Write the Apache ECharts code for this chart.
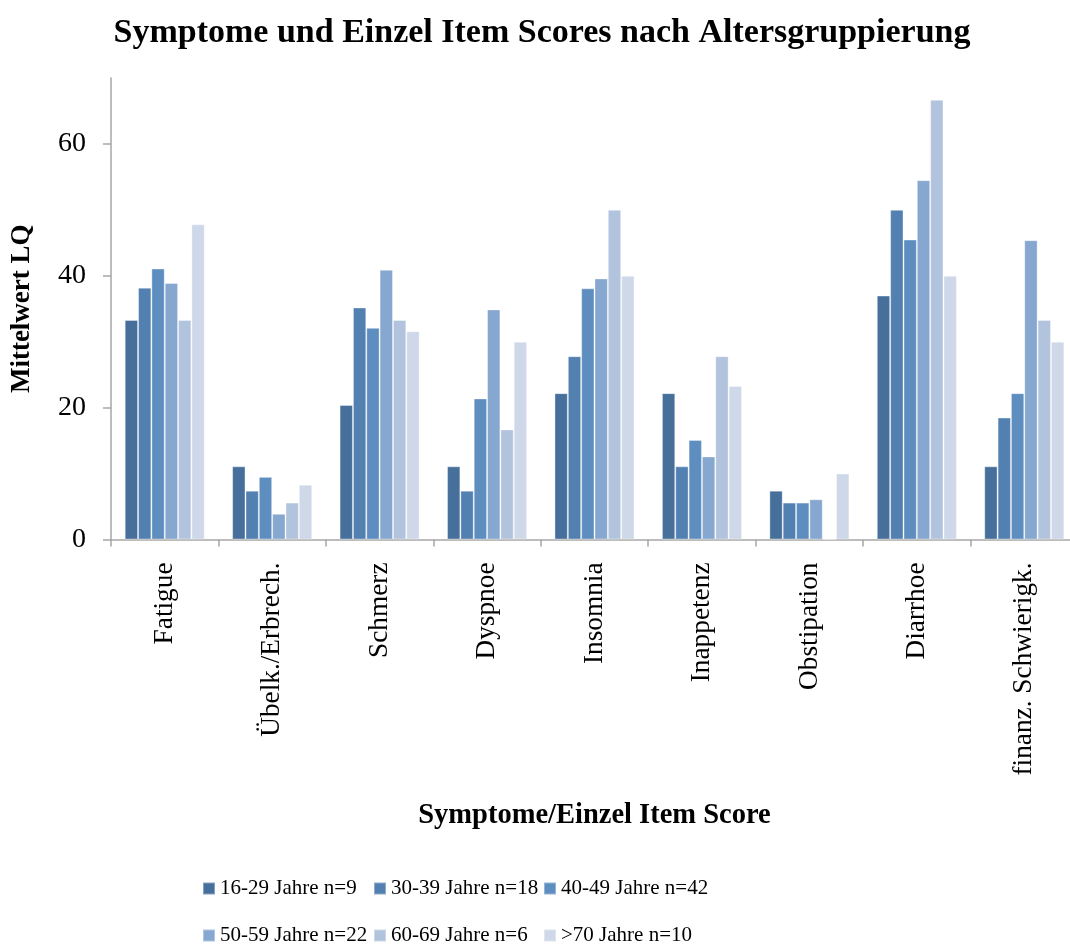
<!DOCTYPE html>
<html>
<head>
<meta charset="utf-8">
<script src="https://cdn.jsdelivr.net/npm/echarts@6/dist/echarts.min.js"></script>
<style>html,body{margin:0;padding:0;background:#fff;overflow:hidden}#c{width:1078px;height:948px}</style>
</head>
<body>
<div id="c"></div>
<script>
const categories = ['Fatigue','Übelk./Erbrech.','Schmerz','Dyspnoe','Insomnia','Inappetenz','Obstipation','Diarrhoe','finanz. Schwierigk.'];
const seriesNames = ['16-29 Jahre n=9','30-39 Jahre n=18','40-49 Jahre n=42','50-59 Jahre n=22','60-69 Jahre n=6','>70 Jahre n=10'];
const age16_29 = [33.3, 11.1, 20.4, 11.1, 22.2, 22.2, 7.4, 37.0, 11.1];
const age30_39 = [38.2, 7.4, 35.2, 7.4, 27.8, 11.1, 5.6, 50.0, 18.5];
const age40_49 = [41.1, 9.5, 32.1, 21.4, 38.1, 15.1, 5.6, 45.5, 22.2];
const age50_59 = [38.9, 3.9, 40.9, 34.9, 39.6, 12.6, 6.1, 54.5, 45.4];
const age60_69 = [33.3, 5.6, 33.3, 16.7, 50.0, 27.8, 0, 66.7, 33.3];
const age70plus = [47.8, 8.3, 31.6, 30.0, 40.0, 23.3, 10.0, 40.0, 30.0];
const yTicks = [0, 20, 40, 60];

const allData = [age16_29, age30_39, age40_49, age50_59, age60_69, age70plus];
const colors = ['#46709b', '#5281b1', '#5e8ec0', '#86a7cf', '#b2c3de', '#ced8e8'];
const FONT = 'Liberation Serif';

const legendPos = [[202, 878], [373, 878], [543, 878], [202, 925], [373, 925], [543, 925]];

const chart = echarts.init(document.getElementById('c'), null, {renderer: 'canvas'});
chart.setOption({
  animation: false,
  backgroundColor: '#fff',
  color: colors,
  title: {
    text: 'Symptome und Einzel Item Scores nach Altersgruppierung',
    left: 537,
    textAlign: 'center',
    top: 11,
    textStyle: {fontFamily: FONT, fontWeight: 'bold', fontSize: 34, color: '#000'}
  },
  legend: seriesNames.map((n, i) => ({
    data: [n],
    left: legendPos[i][0],
    top: legendPos[i][1],
    icon: 'rect',
    itemWidth: 12,
    itemHeight: 12,
    padding: 0,
    selectedMode: false,
    textStyle: {fontFamily: FONT, fontSize: 21, color: '#000'}
  })),
  grid: {left: 111, top: 78, right: 0, bottom: 408.5, containLabel: false},
  xAxis: {
    type: 'category',
    data: categories,
    name: 'Symptome/Einzel Item Score',
    nameLocation: 'middle',
    nameGap: 262,
    nameTextStyle: {fontFamily: FONT, fontWeight: 'bold', fontSize: 28.5, color: '#000'},
    axisLine: {lineStyle: {color: '#a6a6a6', width: 1.5}},
    axisTick: {show: true, length: 7, lineStyle: {color: '#a6a6a6', width: 1.5}},
    axisLabel: {rotate: 90, margin: 23, fontFamily: FONT, fontSize: 27.3, color: '#000', interval: 0}
  },
  yAxis: {
    type: 'value',
    min: 0,
    max: 70,
    interval: 20,
    name: 'Mittelwert LQ',
    nameLocation: 'middle',
    nameGap: 75,
    nameTextStyle: {fontFamily: FONT, fontWeight: 'bold', fontSize: 27, color: '#000'},
    splitLine: {show: false},
    axisLine: {show: true, lineStyle: {color: '#a6a6a6', width: 1.5}},
    axisTick: {show: true, length: 8, customValues: yTicks, lineStyle: {color: '#a6a6a6', width: 1.5}},
    axisLabel: {margin: 25, customValues: yTicks, fontFamily: FONT, fontSize: 28, color: '#000'}
  },
  series: seriesNames.map((n, i) => ({
    name: n,
    type: 'bar',
    data: allData[i],
    barGap: '0%',
    barCategoryGap: '25.5%',
    itemStyle: {color: colors[i], borderColor: 'rgba(255,255,255,0.35)', borderWidth: 1}
  }))
});
</script>
</body>
</html>
